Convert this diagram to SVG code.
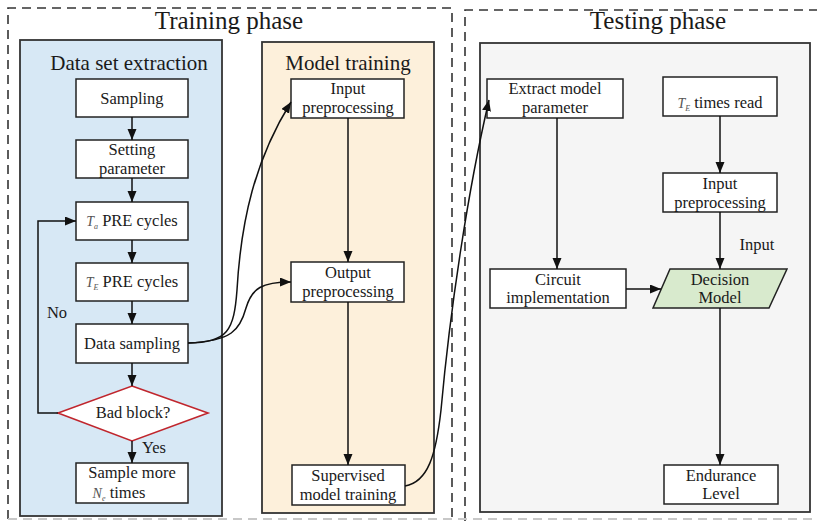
<svg xmlns="http://www.w3.org/2000/svg" width="817" height="521" viewBox="0 0 817 521" font-family="'Liberation Serif','Times New Roman',serif">
<style>
text{font-family:"Liberation Serif","Times New Roman",serif;fill:#1a1a1a;text-anchor:middle}
.title{font-size:25px}
.sub{font-size:21px}
.lbl{font-size:16.5px}
.box{fill:#fff;stroke:#222;stroke-width:1.5}
.dash{fill:none;stroke:#333;stroke-width:1.6;stroke-dasharray:9,6}
.cont{stroke:#333;stroke-width:1.8}
.ln{fill:none;stroke:#111;stroke-width:1.5}
.arr{marker-end:url(#ah)}
.it{font-style:italic;fill:#555;font-size:14px}
.sb{font-style:italic;fill:#555;font-size:8px}
</style>
<defs>
<marker id="ah" markerUnits="userSpaceOnUse" markerWidth="12" markerHeight="10" refX="11" refY="4.5" orient="auto">
<path d="M0,0 L11,4.5 L0,9 z" fill="#111"/>
</marker>
</defs>

<g id="phases">
<path class="dash" d="M8,519 L8,8 L452,8 L452,521"/>
<path class="dash" d="M465,521 L465,10 L817,10"/>
<line x1="8" y1="519" x2="817" y2="519" stroke="#c8c8c8" stroke-width="2" stroke-dasharray="9,6"/>
<text class="title" x="229" y="29">Training phase</text>
<text class="title" x="658" y="29">Testing phase</text>
</g>

<g id="data-set-extraction">
<rect class="cont" x="20" y="40" width="202" height="476" fill="#d7e8f5"/>
<text class="sub" x="129" y="70">Data set extraction</text>
</g>
<g id="model-training">
<rect class="cont" x="262" y="42" width="172" height="471" fill="#fdf0db"/>
<text class="sub" x="348" y="70">Model training</text>
</g>
<g id="testing">
<rect class="cont" x="480" y="43" width="330" height="469" fill="#f5f5f5"/>
</g>

<g id="sampling"><rect class="box" x="76" y="79" width="112" height="38"/><text class="lbl" x="132" y="104">Sampling</text></g>
<g id="setting-parameter"><rect class="box" x="76" y="140" width="112" height="38"/><text class="lbl" x="132" y="155">Setting</text><text class="lbl" x="132" y="174">parameter</text></g>
<g id="ta-pre"><rect class="box" x="76" y="202" width="112" height="38"/><text class="lbl" x="132" y="226"><tspan class="it">T</tspan><tspan class="sb" dy="3">a</tspan><tspan dy="-3"> PRE cycles</tspan></text></g>
<g id="te-pre"><rect class="box" x="76" y="263" width="112" height="38"/><text class="lbl" x="132" y="287"><tspan class="it">T</tspan><tspan class="sb" dy="3">E</tspan><tspan dy="-3"> PRE cycles</tspan></text></g>
<g id="data-sampling"><rect class="box" x="76" y="324" width="112" height="39"/><text class="lbl" x="132" y="349">Data sampling</text></g>
<g id="bad-block"><polygon points="132,386 208,413 132,441 58,413" fill="#fff" stroke="#c0262d" stroke-width="1.6"/><text class="lbl" x="133" y="418">Bad block?</text></g>
<g id="sample-more"><rect class="box" x="76" y="463" width="112" height="40"/><text class="lbl" x="132" y="478">Sample more</text><text class="lbl" x="119" y="498"><tspan class="it">N</tspan><tspan class="sb" dy="3">e</tspan><tspan dy="-3"> times</tspan></text></g>

<g id="input-preprocessing-train"><rect class="box" x="291" y="79" width="113" height="39"/><text class="lbl" x="348" y="94">Input</text><text class="lbl" x="348" y="113">preprocessing</text></g>
<g id="output-preprocessing"><rect class="box" x="291" y="262" width="113" height="40"/><text class="lbl" x="348" y="278">Output</text><text class="lbl" x="348" y="297">preprocessing</text></g>
<g id="supervised"><rect class="box" x="292" y="465" width="113" height="40"/><text class="lbl" x="348" y="481">Supervised</text><text class="lbl" x="348" y="500">model training</text></g>

<g id="extract-model"><rect class="box" x="487" y="79" width="136" height="39"/><text class="lbl" x="555" y="94">Extract model</text><text class="lbl" x="555" y="113">parameter</text></g>
<g id="te-times-read"><rect class="box" x="663" y="77" width="114" height="39"/><text class="lbl" x="720" y="108"><tspan class="it">T</tspan><tspan class="sb" dy="3">E</tspan><tspan dy="-3">  times read</tspan></text></g>
<g id="input-preprocessing-test"><rect class="box" x="663" y="173" width="114" height="39"/><text class="lbl" x="720" y="189">Input</text><text class="lbl" x="720" y="208">preprocessing</text></g>
<g id="circuit"><rect class="box" x="490" y="269" width="136" height="39"/><text class="lbl" x="558" y="285">Circuit</text><text class="lbl" x="558" y="303">implementation</text></g>
<g id="decision-model"><polygon points="670,269 787,269 769,308 653,308" fill="#d8eacd" stroke="#222" stroke-width="1.5"/><text class="lbl" x="720" y="285">Decision</text><text class="lbl" x="720" y="303">Model</text></g>
<g id="endurance"><rect class="box" x="664" y="465" width="114" height="39"/><text class="lbl" x="721" y="481">Endurance</text><text class="lbl" x="721" y="499">Level</text></g>

<g id="connectors">
<line class="ln arr" x1="132" y1="117" x2="132" y2="140"/>
<line class="ln arr" x1="132" y1="178" x2="132" y2="202"/>
<line class="ln arr" x1="132" y1="240" x2="132" y2="263"/>
<line class="ln arr" x1="132" y1="301" x2="132" y2="324"/>
<line class="ln arr" x1="132" y1="363" x2="132" y2="386"/>
<line class="ln arr" x1="132" y1="441" x2="132" y2="463"/>
<path class="ln arr" d="M58,413 L38,413 L38,221 L76,221"/>
<text class="lbl" x="57" y="318">No</text>
<text class="lbl" x="154" y="453">Yes</text>
<path class="ln arr" d="M188,343 C228,343 234,330 237,290 C241,220 255,160 291,102"/>
<path class="ln arr" d="M188,343 C232,341 240,330 246,308 C252,288 262,282 291,282"/>
<line class="ln arr" x1="348" y1="118" x2="348" y2="262"/>
<line class="ln arr" x1="348" y1="302" x2="348" y2="465"/>
<path class="ln arr" d="M405,486 C428,482 436,455 441,410 C450,310 468,190 489,100"/>
<line class="ln arr" x1="557" y1="118" x2="557" y2="269"/>
<line class="ln arr" x1="720" y1="116" x2="720" y2="173"/>
<line class="ln arr" x1="720" y1="212" x2="720" y2="269"/>
<text class="lbl" x="757" y="250">Input</text>
<line class="ln arr" x1="626" y1="289" x2="661" y2="289"/>
<line class="ln arr" x1="720" y1="308" x2="720" y2="465"/>
</g>
</svg>
